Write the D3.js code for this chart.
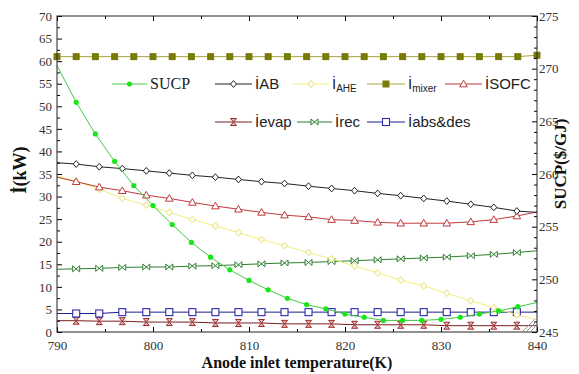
<!DOCTYPE html>
<html><head><meta charset="utf-8">
<script src="https://cdn.jsdelivr.net/npm/d3@7"></script>
<style>body{margin:0;background:#fff}</style>
</head><body><svg id="c" width="579" height="374"></svg>
<script>
// ---------- data ----------
const tempsA = [790,792,794,796,798,800,802,804,806,808,810,812,814,816,818,820,822,824,826,828,830,832,834,836,838,840];
const tempsB = [790,792.0,794.4,796.8,799.3,801.7,804.1,806.5,808.9,811.3,813.7,816.2,818.6,821.0,823.4,825.8,828.2,830.6,833.1,835.5,837.9,840];
const sucp   = [270.3,266.8,263.8,261.2,258.9,257.0,255.2,253.5,252.1,250.9,249.9,249.0,248.2,247.6,247.2,246.7,246.4,246.1,246.1,246.1,246.2,246.4,246.7,247.0,247.4,247.8];
const iMixer = [61,61,61,61,61,61,61,61,61,61,61,61,61,61,61,61,61,61,61,61,61,61,61,61,61,61.3];
const iAB    = [37.5,37.2,36.6,36.2,35.7,35.2,34.7,34.3,33.8,33.3,32.9,32.3,31.8,31.3,30.7,30.2,29.6,29.0,28.3,27.6,26.8,26.5];
const iAHE   = [34.6,33.4,31.6,29.6,28.1,26.5,24.9,23.5,22.0,20.5,19.1,17.6,16.2,14.6,13.1,11.5,10.2,8.6,6.9,5.4,3.8,2.7];
const iSOFC  = [34.3,33.3,32.1,31.3,30.3,29.6,28.7,27.9,27.2,26.5,25.9,25.5,24.9,24.7,24.3,24.1,24.1,24.1,24.4,24.9,25.7,26.6];
const iEvap  = [2.5,2.5,2.4,2.4,2.2,2.2,2.2,2.0,2.0,2.0,1.8,1.8,1.8,1.6,1.6,1.6,1.6,1.4,1.4,1.4,1.4,1.4];
const iRec   = [13.9,14.0,14.1,14.3,14.4,14.4,14.6,14.7,14.9,15.1,15.3,15.4,15.6,15.8,16.0,16.2,16.4,16.6,16.9,17.2,17.6,18.0];
const iAbs   = [4.1,4.1,4.1,4.4,4.4,4.4,4.4,4.4,4.4,4.4,4.4,4.4,4.4,4.4,4.4,4.4,4.4,4.4,4.4,4.4,4.4,4.4];
const xTicks = [790,800,810,820,830,840];
const yLeftTicks = [0,5,10,15,20,25,30,35,40,45,50,55,60,65,70];
const yRightTicks = [245,250,255,260,265,270,275];

// ---------- layout ----------
const L = 57, R = 537, T = 16, B = 332;
const svg = d3.select("#c");
const x = d3.scaleLinear().domain([790,840]).range([L,R]);
const yL = d3.scaleLinear().domain([0,70]).range([B,T]);
const yR = d3.scaleLinear().domain([245,275]).range([B,T]);

// markers
const mk = {
  dot: (g,c)=>g.append("circle").attr("r",2.6).attr("fill","#19e619"),
  diamond: (g,c)=>g.append("path").attr("d","M0,-3.4L3,0L0,3.4L-3,0Z").attr("fill","#fff").attr("stroke",c).attr("stroke-width",1),
  sqfill: (g,c)=>g.append("rect").attr("x",-3.5).attr("y",-3.5).attr("width",7).attr("height",7).attr("fill","#7a7a0a"),
  tri: (g,c)=>g.append("path").attr("d","M0,-3.8L3.8,2.8L-3.8,2.8Z").attr("fill","#fff").attr("stroke",c).attr("stroke-width",1),
  hour: (g,c)=>g.append("path").attr("d","M-3,-3.5H3L-3,3.5H3Z").attr("fill","#eab4b4").attr("stroke","#9a2c2c").attr("stroke-width",1),
  bow: (g,c)=>g.append("path").attr("d","M-3.5,-3V3L3.5,-3V3Z").attr("fill","#fff").attr("stroke",c).attr("stroke-width",1),
  sqopen: (g,c)=>g.append("rect").attr("x",-3.5).attr("y",-3.5).attr("width",7).attr("height",7).attr("fill","#fff").attr("stroke",c).attr("stroke-width",1.1)
};

const seriesB = [
  {v:iEvap, c:"#7c1e1e", mc:"#9a2c2c", m:"hour"},
  {v:iAbs,  c:"#1c1c8c", mc:"#2a2ab4", m:"sqopen"},
  {v:iRec,  c:"#2f7f2f", mc:"#2f7f2f", m:"bow"},
  {v:iAHE,  c:"#f2ee7a", mc:"#e6df5c", m:"diamond"},
  {v:iSOFC, c:"#c0393b", mc:"#c0393b", m:"tri"},
  {v:iAB,   c:"#222",    mc:"#222",    m:"diamond"}
];

function drawSeries(xs, vs, ys, color, mcol, mkind, idxFrom, idxTo, w){
  const pts = xs.map((t,i)=>[x(t), ys(vs[i])]);
  svg.append("path").attr("d", d3.line()(pts)).attr("fill","none").attr("stroke",color).attr("stroke-width",w||1);
  pts.forEach((p,i)=>{
    if(i<idxFrom||i>idxTo) return;
    const g = svg.append("g").attr("transform",`translate(${p[0]},${p[1]})`);
    mk[mkind](g,mcol);
  });
}

seriesB.forEach(s=>drawSeries(tempsB, s.v, yL, s.c, s.mc, s.m, 1, 20));
drawSeries(tempsA, iMixer, yL, "#a6a63c", "#7a7a0a", "sqfill", 0, 25);
drawSeries(tempsA, sucp, yR, "#45c845", "#19e619", "dot", 1, 24);

// ---------- axes ----------
const tickFont = g=>g.selectAll("text").attr("font-family","Liberation Serif, Times New Roman, serif").attr("font-size",13).attr("fill","#333");
const clean = g=>g.select(".domain").remove();

svg.append("g").attr("transform",`translate(0,${B})`)
  .call(d3.axisBottom(x).tickValues(xTicks).tickSize(-5).tickPadding(9).tickFormat(d3.format("d")))
  .call(clean).call(tickFont);
svg.append("g").attr("transform",`translate(0,${B})`)
  .call(d3.axisBottom(x).tickValues([795,805,815,825,835]).tickSize(-3).tickFormat("")).call(clean);
svg.append("g").attr("transform",`translate(0,${T})`)
  .call(d3.axisTop(x).tickValues(xTicks).tickSize(-5).tickFormat("")).call(clean);
svg.append("g").attr("transform",`translate(0,${T})`)
  .call(d3.axisTop(x).tickValues([795,805,815,825,835]).tickSize(-3).tickFormat("")).call(clean);

svg.append("g").attr("transform",`translate(${L},0)`)
  .call(d3.axisLeft(yL).tickValues(yLeftTicks).tickSize(-5).tickPadding(5).tickFormat(d3.format("d")))
  .call(clean).call(tickFont);
svg.append("g").attr("transform",`translate(${L},0)`)
  .call(d3.axisLeft(yL).tickValues(d3.range(2.5,70,5)).tickSize(-3).tickFormat("")).call(clean);

svg.append("g").attr("transform",`translate(${R},0)`)
  .call(d3.axisRight(yR).tickValues(yRightTicks).tickSize(-5).tickPadding(2).tickFormat(d3.format("d")))
  .call(clean).call(tickFont);
svg.append("g").attr("transform",`translate(${R},0)`)
  .call(d3.axisRight(yR).tickValues(d3.range(246,275,1).filter(v=>v%5!==0)).tickSize(-3).tickFormat("")).call(clean);

svg.append("rect").attr("x",L).attr("y",T).attr("width",R-L).attr("height",B-T)
  .attr("fill","none").attr("stroke","#222").attr("stroke-width",1);

// resize grip in corner
[[523,331,535,319],[527,331,535,323],[531,331,535,327]].forEach(d=>{
  svg.append("line").attr("x1",d[0]).attr("y1",d[1]).attr("x2",d[2]).attr("y2",d[3]).attr("stroke","#999").attr("stroke-width",1);
});

// ---------- titles ----------
const serif = "Liberation Serif, Times New Roman, serif";
svg.append("text").attr("x",(L+R)/2).attr("y",368).attr("text-anchor","middle")
  .attr("font-family",serif).attr("font-weight","bold").attr("font-size",16).attr("fill","#111")
  .text("Anode inlet temperature(K)");
svg.append("text").attr("transform","translate(26,170) rotate(-90)").attr("text-anchor","middle")
  .attr("font-family",serif).attr("font-weight","bold").attr("font-size",18).attr("fill","#111")
  .text("İ(kW)");
svg.append("text").attr("transform","translate(566,164) rotate(-90)").attr("text-anchor","middle")
  .attr("font-family",serif).attr("font-weight","bold").attr("font-size",17).attr("fill","#111")
  .text("SUCP($/GJ)");

// ---------- legend ----------
const sans = "Liberation Sans, Arial, sans-serif";
const legend = [
  {x1:112,x2:147,y:84,c:"#45c845",mc:"#19e619",m:"dot",label:[["SUCP",""]],font:serif,fs:16},
  {x1:215,x2:252,y:84,c:"#222",mc:"#222",m:"diamond",label:[["İAB",""]]},
  {x1:293,x2:329,y:84,c:"#f2ee7a",mc:"#e6df5c",m:"diamond",label:[["İ",""],["AHE","sub"]]},
  {x1:367,x2:405,y:84,c:"#a6a63c",mc:"#7a7a0a",m:"sqfill",label:[["İ",""],["mixer","sub"]]},
  {x1:445,x2:482,y:84,c:"#c0393b",mc:"#c0393b",m:"tri",label:[["İSOFC",""]]},
  {x1:215,x2:252,y:122,c:"#7c1e1e",mc:"#9a2c2c",m:"hour",label:[["İevap",""]]},
  {x1:297,x2:332,y:122,c:"#2f7f2f",mc:"#2f7f2f",m:"bow",label:[["İrec",""]]},
  {x1:367,x2:405,y:122,c:"#1c1c8c",mc:"#2a2ab4",m:"sqopen",label:[["İabs&des",""]]}
];
legend.forEach(d=>{
  svg.append("line").attr("x1",d.x1).attr("x2",d.x2).attr("y1",d.y).attr("y2",d.y).attr("stroke",d.c).attr("stroke-width",1);
  const g = svg.append("g").attr("transform",`translate(${(d.x1+d.x2)/2},${d.y})`);
  mk[d.m](g,d.mc);
  const t = svg.append("text").attr("x",d.x2+3).attr("y",d.y+5)
    .attr("font-family",d.font||sans).attr("font-size",d.fs||15).attr("fill","#222");
  d.label.forEach(p=>{
    const ts = t.append("tspan").text(p[0]);
    if(p[1]==="sub") ts.attr("font-size",10).attr("dy",3);
  });
});
</script></body></html>
